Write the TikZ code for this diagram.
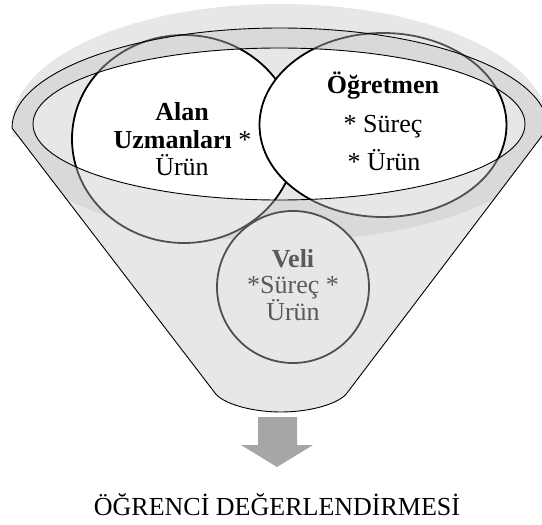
\documentclass[tikz,border=0pt]{standalone}
\usepackage{fontspec}
\setmainfont{Liberation Serif}
\definecolor{lightg}{HTML}{E7E7E7}
\definecolor{bandg}{HTML}{D9D9D9}
\definecolor{rimg}{HTML}{505050}
\definecolor{txtg}{HTML}{5A5A5A}
\definecolor{arrowg}{HTML}{A6A6A6}
\begin{document}
\begin{tikzpicture}[x=1pt,y=-1pt,
  thinline/.style={draw=black,line width=0.9pt},
  rimline/.style={draw=rimg,line width=1.8pt},
  frontline/.style={draw=black,line width=1.8pt},
  txt/.style={inner sep=0pt,anchor=base,font=\fontsize{26}{28}\selectfont},
  gtxt/.style={txt,text=txtg}]
\useasboundingbox (0,0) rectangle (542,525);
% light top of funnel
\begin{scope}
  \clip (0,0) rectangle (560,136);
  \fill[lightg] (280,125) ellipse [x radius=268pt, y radius=121pt];
\end{scope}
% funnel body
\fill[lightg] (12,128) arc[start angle=180, end angle=0, x radius=268pt, y radius=100pt]
  -- (347,393) .. controls (340,403) and (312,412) .. (281,412)
  .. controls (250,412) and (222,403) .. (215,393) -- cycle;
% shadow band inside funnel
\begin{scope}
  \clip (12,128) arc[start angle=180, end angle=0, x radius=268pt, y radius=100pt]
  -- (347,393) .. controls (340,403) and (312,412) .. (281,412)
  .. controls (250,412) and (222,403) .. (215,393) -- cycle;
  \fill[bandg] (280,135) ellipse [x radius=268pt, y radius=106pt];
\end{scope}
% mouth
\fill[lightg] (279,124) ellipse [x radius=246pt, y radius=76pt];
% circles outside the mouth
\begin{scope}[even odd rule]
  \clip (-20,-20) rectangle (580,560) (279,124) ellipse [x radius=246pt, y radius=76pt];
  \fill[lightg] (184,139) ellipse [x radius=112pt, y radius=104pt];
  \fill[lightg] (383,125) ellipse [x radius=123.5pt, y radius=92pt];
  \fill[lightg] (293,287) circle [radius=76pt];
  \begin{scope}
    \clip (0,0) rectangle (560,124);
    \fill[bandg] (280,128) ellipse [x radius=268pt, y radius=100pt]
      (279,124) ellipse [x radius=246pt, y radius=76pt];
  \end{scope}
  \draw[rimline] (184,139) ellipse [x radius=112pt, y radius=104pt];
  \draw[rimline] (383,125) ellipse [x radius=123.5pt, y radius=92pt];
  \draw[rimline] (293,287) circle [radius=76pt];
\end{scope}
% circles inside the mouth
\begin{scope}
  \clip (279,124) ellipse [x radius=246pt, y radius=76pt];
  \fill[white] (184,139) ellipse [x radius=112pt, y radius=104pt];
  \draw[frontline] (184,139) ellipse [x radius=112pt, y radius=104pt];
  \fill[white] (383,125) ellipse [x radius=123.5pt, y radius=92pt];
  \draw[frontline] (383,125) ellipse [x radius=123.5pt, y radius=92pt];
\end{scope}
% funnel outlines
\draw[thinline] (279,124) ellipse [x radius=246pt, y radius=76pt];
\draw[thinline,line join=round] (12,128) arc[start angle=180, end angle=0, x radius=268pt, y radius=100pt]
  -- (347,393) .. controls (340,403) and (312,412) .. (281,412)
  .. controls (250,412) and (222,403) .. (215,393) -- cycle;
% texts
\node[txt] (alanA) at (182,120) {\bfseries Alan};
\node[txt] (alanB) at (182.5,148) {\textbf{Uzmanları} *};
\node[txt] (alanC) at (182,175) {Ürün};
\node[txt] (ogrA) at (383,93) {\bfseries Öğretmen};
\node[txt] (ogrB) at (383,132) {* Süreç};
\node[txt] (ogrC) at (384,170) {* Ürün};
\node[gtxt] (veliA) at (293,267) {\bfseries Veli};
\node[gtxt] (veliB) at (293,293) {*Süreç *};
\node[gtxt] (veliC) at (293,320.5) {Ürün};
% arrow
\fill[arrowg] (258,417) -- (297,417) -- (297,445) -- (313,445) -- (277,467)
  -- (241,445) -- (258,445) -- cycle;
\node[txt] (result) at (277,515) {ÖĞRENCİ DEĞERLENDİRMESİ};
\end{tikzpicture}
\end{document}
